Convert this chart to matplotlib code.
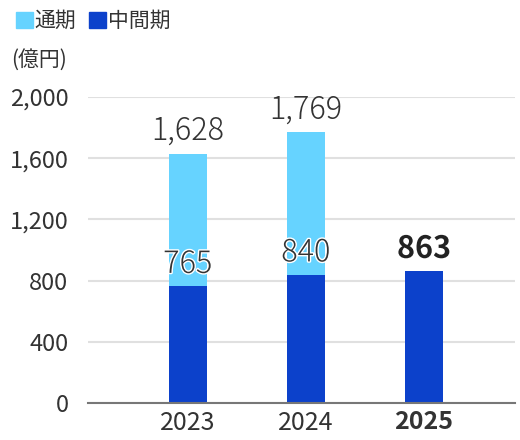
import matplotlib.pyplot as plt
import matplotlib.patheffects as pe
from matplotlib.patches import Patch

plt.rcParams['font.family'] = ['Noto Sans CJK JP', 'DejaVu Sans']

years = ['2023', '2024', '2025']
full_year = [1628, 1769, None]
half_year = [765, 840, 863]
y_ticks = [0, 400, 800, 1200, 1600, 2000]

light_blue = '#66D3FF'
dark_blue = '#0C41CB'
text_color = '#333333'

fig = plt.figure(figsize=(5.2, 4.4), dpi=100)
ax = fig.add_axes([0.169, 0.084, 0.821, 0.6955])

x = list(range(len(years)))
bar_w = 0.32

# full year bars behind, half year bars in front
for i, v in enumerate(full_year):
    if v is not None:
        ax.bar(i, v, width=bar_w, color=light_blue, zorder=2)
        ax.text(i, v + 45, f'{v:,}', ha='center', va='bottom', fontsize=22,
                color=text_color, fontweight='light')

for i, v in enumerate(half_year):
    ax.bar(i, v, width=bar_w, color=dark_blue, zorder=3)
    last = full_year[i] is None
    ax.text(i, v + 40, f'{v:,}', ha='center', va='bottom', fontsize=22,
            color='#222222' if last else text_color,
            fontweight='bold' if last else 'light', zorder=4,
            path_effects=[pe.withStroke(linewidth=2, foreground='white')])

ax.set_ylim(0, 2000)
ax.set_xlim(-0.847, 2.77)
ax.set_yticks(y_ticks)
ax.set_yticklabels([f'{t:,}' for t in y_ticks], fontsize=17, color=text_color)
ax.set_xticks(x)
ax.set_xticklabels(years, fontsize=18, color=text_color)
ax.get_xticklabels()[-1].set_fontweight('bold')
ax.tick_params(axis='y', length=0, pad=14)
ax.tick_params(axis='x', length=0, pad=5)

ax.grid(axis='y', color='#e0e0e0', linewidth=1.5, zorder=0)
ax.set_axisbelow(True)
for s in ['top', 'right', 'left']:
    ax.spines[s].set_visible(False)
ax.spines['bottom'].set_color('#777777')
ax.spines['bottom'].set_linewidth(1.5)
ax.spines['bottom'].set_zorder(5)

handles = [Patch(color=light_blue, label='通期'), Patch(color=dark_blue, label='中間期')]
fig.legend(handles=handles, loc='upper left', bbox_to_anchor=(-0.005, 1.02), ncol=2,
           frameon=False, fontsize=15, handlelength=0.8, handleheight=0.8,
           handletextpad=0.1, columnspacing=0.6, labelcolor=text_color)

fig.text(0.022, 0.865, '(億円)', fontsize=15, color=text_color, va='center')

fig.savefig('out.png', dpi=100, facecolor='white')
